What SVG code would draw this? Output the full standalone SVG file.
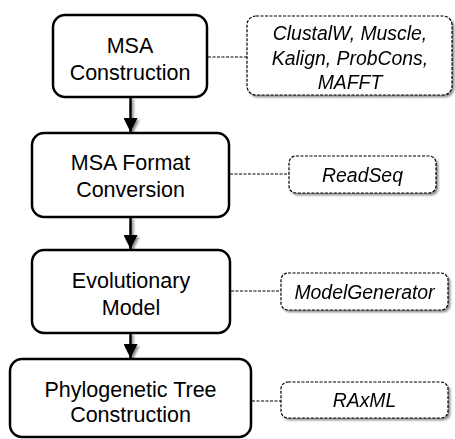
<svg xmlns="http://www.w3.org/2000/svg" width="455" height="439" viewBox="0 0 455 439">
<defs>
<filter id="sh" filterUnits="userSpaceOnUse" x="0" y="0" width="455" height="439">
<feGaussianBlur in="SourceAlpha" stdDeviation="1.2"/>
<feOffset dx="2" dy="2" result="b"/>
<feComponentTransfer><feFuncA type="linear" slope="0.45"/></feComponentTransfer>
<feMerge><feMergeNode/><feMergeNode in="SourceGraphic"/></feMerge>
</filter>
<marker id="ah" viewBox="0 0 14 14" refX="14" refY="7" markerWidth="14" markerHeight="14" markerUnits="userSpaceOnUse" orient="auto">
<path d="M0,0 L14,7 L0,14 Z" fill="#000"/>
</marker>
</defs>
<style>
.main{fill:#fff;stroke:#000;stroke-width:2.5}
.tool{fill:#fff;stroke:#000;stroke-width:1.2;stroke-dasharray:3 1.5}
.t{font-family:"Liberation Sans",Arial,sans-serif;font-size:21.5px;fill:#000;text-anchor:middle}
.ti{font-family:"Liberation Sans",Arial,sans-serif;font-size:19.4px;font-style:italic;fill:#000;text-anchor:middle}
.dl{stroke:#000;stroke-width:1;stroke-dasharray:3 1.5;fill:none}
.ar{stroke:#000;stroke-width:2.5;fill:none}
</style>
<g id="connectors">
<g filter="url(#sh)">
<line class="ar" x1="130.5" y1="97" x2="130.5" y2="132" marker-end="url(#ah)"/>
<line class="ar" x1="130.5" y1="217" x2="130.5" y2="249" marker-end="url(#ah)"/>
<line class="ar" x1="130.5" y1="333" x2="130.5" y2="358" marker-end="url(#ah)"/>
</g>
<line class="dl" x1="208" y1="57" x2="247" y2="57"/>
<line class="dl" x1="230" y1="174" x2="289" y2="174"/>
<line class="dl" x1="231" y1="291" x2="281" y2="291"/>
<line class="dl" x1="252" y1="401" x2="281" y2="401"/>
</g>
<g id="msa-construction">
<rect class="main" x="53" y="15" width="154" height="82" rx="12"/>
<text class="t" x="130" y="53">MSA</text>
<text class="t" x="130" y="80">Construction</text>
</g>
<g id="msa-format">
<rect class="main" x="32" y="133" width="197" height="84" rx="12"/>
<text class="t" x="130.5" y="170">MSA Format</text>
<text class="t" x="130.5" y="197">Conversion</text>
</g>
<g id="evolutionary-model">
<rect class="main" x="32" y="250" width="198" height="83" rx="12"/>
<text class="t" x="131" y="288">Evolutionary</text>
<text class="t" x="131" y="315">Model</text>
</g>
<g id="phylo-tree">
<rect class="main" x="10" y="359" width="241" height="78" rx="12"/>
<text class="t" x="130.5" y="397">Phylogenetic Tree</text>
<text class="t" x="130.5" y="422">Construction</text>
</g>
<g id="tool-msa" filter="url(#sh)">
<rect class="tool" x="247" y="16" width="205" height="79" rx="9"/>
<text class="ti" x="350" y="40">ClustalW, Muscle,</text>
<text class="ti" x="350" y="65">Kalign, ProbCons,</text>
<text class="ti" x="350" y="89">MAFFT</text>
</g>
<g id="tool-readseq" filter="url(#sh)">
<rect class="tool" x="289" y="156" width="147" height="37" rx="7"/>
<text class="ti" x="362.5" y="182">ReadSeq</text>
</g>
<g id="tool-modelgenerator" filter="url(#sh)">
<rect class="tool" x="281" y="273" width="167" height="37" rx="7"/>
<text class="ti" x="364.5" y="298.5">ModelGenerator</text>
</g>
<g id="tool-raxml" filter="url(#sh)">
<rect class="tool" x="281" y="382" width="167" height="36" rx="7"/>
<text class="ti" x="364.5" y="406.5">RAxML</text>
</g>
</svg>
